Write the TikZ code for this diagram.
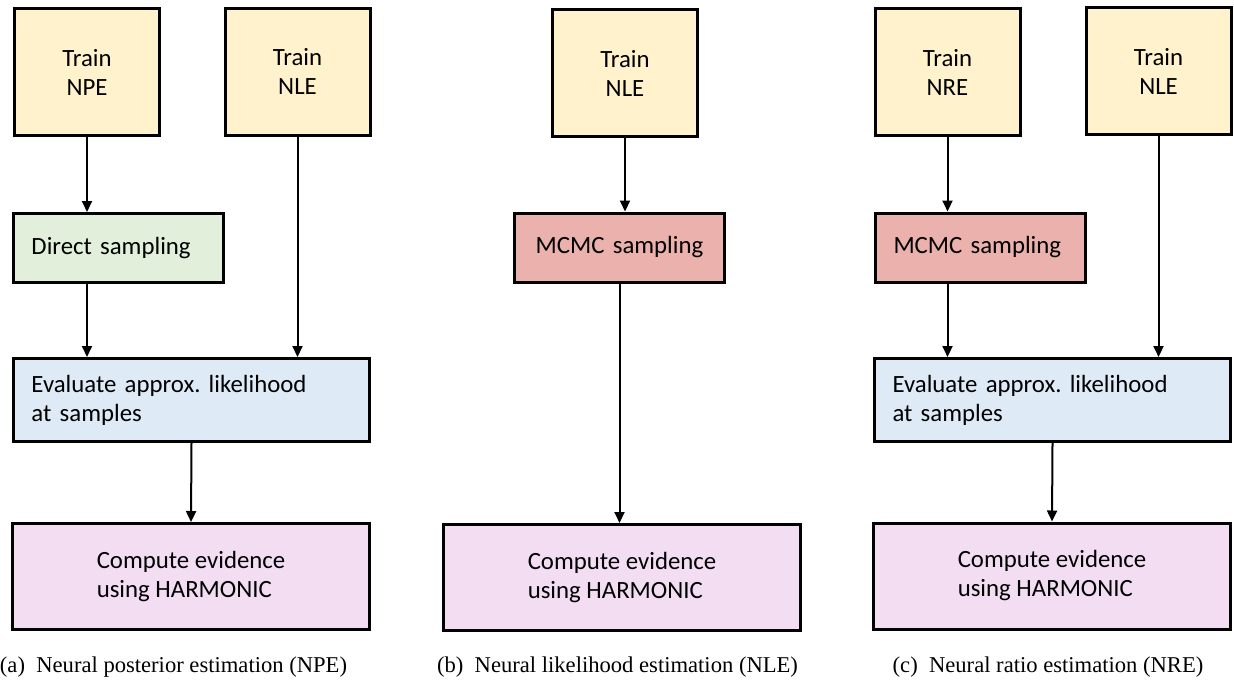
\documentclass[tikz,border=0pt]{standalone}
\usepackage{fontspec}
\setmainfont{Carlito}
\newfontfamily\capfont{Liberation Serif}
\usetikzlibrary{arrows.meta}
\definecolor{trainyellow}{RGB}{255, 242, 204}
\definecolor{directgreen}{RGB}{226, 239, 218}
\definecolor{mcmcred}{RGB}{235, 177, 172}
\definecolor{evalblue}{RGB}{222, 235, 247}
\definecolor{harmpurple}{RGB}{243, 221, 243}
\frenchspacing

\begin{document}
\begin{tikzpicture}[x=0.5pt, y=-0.5pt,
  box/.style={draw=black, line width=1.5pt, inner sep=0pt, font=\fontsize{12.4}{14.5}\selectfont},
  trainbox/.style={box, fill=trainyellow, minimum width=72.5pt, minimum height=63.5pt, align=center},
  sampbox/.style={box, minimum width=105pt, minimum height=34.5pt, text width=87pt, align=left},
  evalbox/.style={box, fill=evalblue, minimum width=178pt, minimum height=41.5pt, text width=160pt, align=left},
  compbox/.style={box, fill=harmpurple, minimum width=178.5pt, minimum height=53pt, align=left},
  flow/.style={line width=1pt, -{Triangle[length=5.5pt, width=5pt]}},
  caption/.style={font=\capfont\fontsize{11.3}{13}\selectfont}]
  \useasboundingbox (0,0) rectangle (1234,680);

  % (a) NPE
  \node[trainbox] (npeA) at (87,72) {Train\\NPE};
  \node[trainbox] (nleA) at (297.5,71.5) {Train\\NLE};
  \node[sampbox, fill=directgreen] (directA) at (118.5,248) {Direct sampling};
  \node[evalbox] (evalA) at (191.5,400) {Evaluate approx. likelihood\\at samples};
  \node[compbox] (compA) at (191,576.5) {Compute evidence\\using HARMONIC};
  \draw[flow] (npeA.south) -- (npeA.south |- directA.north);
  \draw[flow] (directA.south -| npeA) -- (evalA.north -| npeA);
  \draw[flow] (nleA.south) -- (nleA.south |- evalA.north);
  \draw[flow] (evalA.south) -- (compA.north);
  \node[caption] (capA) at (173.5,667) {(a)\enspace Neural posterior estimation (NPE)};

  % (b) NLE
  \node[trainbox] (nleB) at (625,73) {Train\\NLE};
  \node[sampbox, fill=mcmcred, align=center] (mcmcB) at (619.5,247.5) {MCMC sampling};
  \node[compbox] (compB) at (622,577.5) {Compute evidence\\using HARMONIC};
  \draw[flow] (nleB.south) -- (nleB.south |- mcmcB.north);
  \draw[flow] (mcmcB.south) -- (mcmcB.south |- compB.north);
  \node[caption] (capB) at (617.5,667) {(b)\enspace Neural likelihood estimation (NLE)};

  % (c) NRE
  \node[trainbox] (nreC) at (947.5,72) {Train\\NRE};
  \node[trainbox] (nleC) at (1158.5,71) {Train\\NLE};
  \node[sampbox, fill=mcmcred] (mcmcC) at (980.5,247.5) {MCMC sampling};
  \node[evalbox] (evalC) at (1052.5,400) {Evaluate approx. likelihood\\at samples};
  \node[compbox] (compC) at (1052,576) {Compute evidence\\using HARMONIC};
  \draw[flow] (nreC.south) -- (nreC.south |- mcmcC.north);
  \draw[flow] (mcmcC.south -| nreC) -- (evalC.north -| nreC);
  \draw[flow] (nleC.south) -- (nleC.south |- evalC.north);
  \draw[flow] (evalC.south) -- (compC.north);
  \node[caption] (capC) at (1048,667) {(c)\enspace Neural ratio estimation (NRE)};
\end{tikzpicture}
\end{document}
